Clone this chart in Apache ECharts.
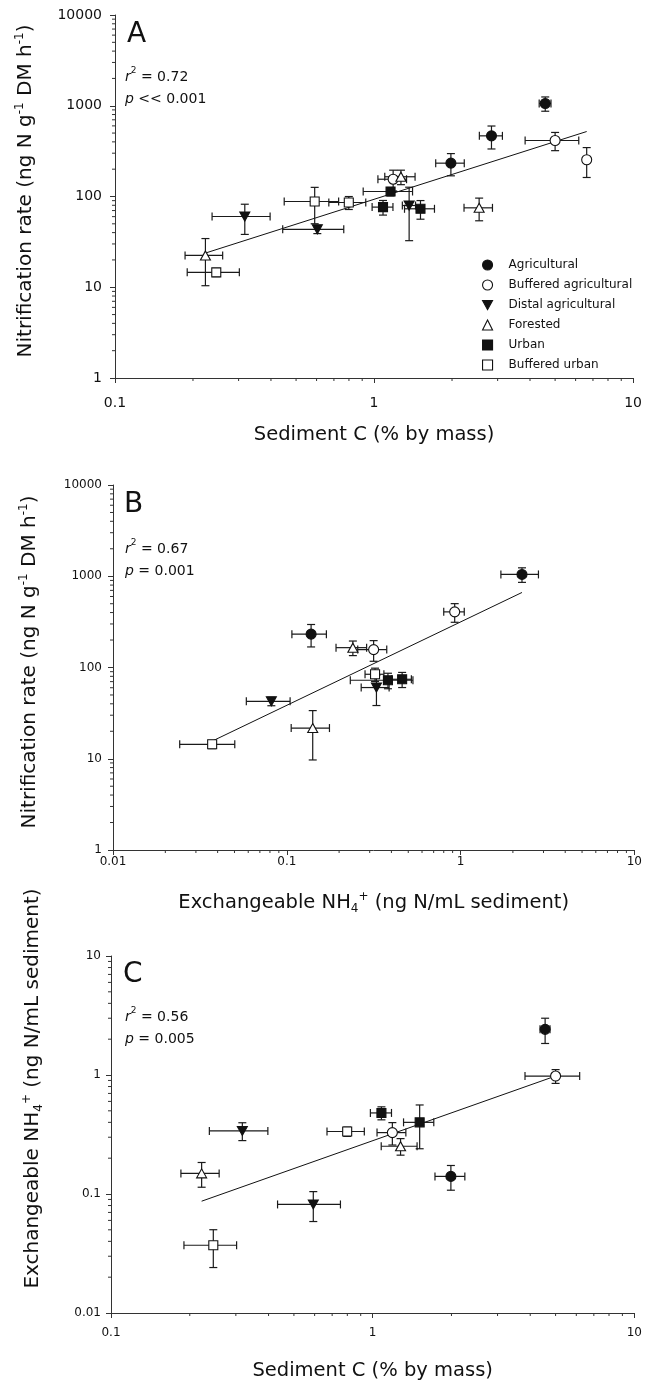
<!DOCTYPE html>
<html>
<head>
<meta charset="utf-8">
<script src="https://cdn.jsdelivr.net/npm/echarts@6/dist/echarts.min.js"></script>
<style>
  html, body { margin: 0; padding: 0; background: #fff; }
  #chart { width: 645px; height: 1384px; }
</style>
</head>
<body>
<div id="chart"></div>
<script>
// Land-use classes shown in the legend
const landUse = ['Agricultural', 'Buffered agricultural', 'Distal agricultural', 'Forested', 'Urban', 'Buffered urban'];

// Each point: [x, y, x standard error, y standard error]
// Panel A: sediment C (% by mass) vs nitrification rate
const carbonRateAgricultural = [[4.58, 1060, 0.24, 190], [2.84, 466, 0.29, 132], [1.98, 233, 0.25, 64]];
const carbonRateBufferedAgri = [[5.0, 414, 1.17, 94], [6.62, 254, 0.15, 92], [1.185, 155, 0.15, 40]];
const carbonRateDistalAgri = [[0.317, 60.2, 0.08, 22], [0.604, 43.5, 0.16, 4.5], [1.366, 79.6, 0.08, 47]];
const carbonRateForested = [[0.2234, 22.4, 0.037, 12], [1.27, 165, 0.17, 30], [2.545, 75, 0.32, 21]];
const carbonRateUrban = [[1.158, 113.5, 0.25, 12], [1.083, 76.4, 0.1, 14], [1.511, 73.2, 0.2, 17]];
const carbonRateBufferedUrban = [[0.59, 88.1, 0.14, 38], [0.799, 85.9, 0.13, 14], [0.246, 14.6, 0.056, 1.5]];

// Panel B: exchangeable NH4+ vs nitrification rate
const ammoniumRateAgricultural = [[2.256, 1047, 0.55, 190], [0.138, 232, 0.031, 64]];
const ammoniumRateBufferedAgri = [[0.925, 407, 0.125, 94], [0.316, 157, 0.06, 40]];
const ammoniumRateDistalAgri = [[0.0815, 42.6, 0.023, 4.5], [0.328, 60.3, 0.06, 22]];
const ammoniumRateForested = [[0.24, 165, 0.048, 30], [0.141, 21.7, 0.035, 12]];
const ammoniumRateUrban = [[0.382, 72.5, 0.15, 14], [0.461, 74.3, 0.06, 14]];
const ammoniumRateBufferedUrban = [[0.322, 84.3, 0.04, 14], [0.0372, 14.4, 0.013, 1.5]];

// Panel C: sediment C vs exchangeable NH4+
const carbonAmmoniumAgricultural = [[4.56, 2.42, 0.2, 0.58], [1.99, 0.1406, 0.26, 0.033]];
const carbonAmmoniumBufferedAgri = [[5.0, 0.98, 1.18, 0.13], [1.189, 0.328, 0.15, 0.07]];
const carbonAmmoniumDistalAgri = [[0.3176, 0.339, 0.08, 0.058], [0.593, 0.0817, 0.16, 0.023]];
const carbonAmmoniumForested = [[0.222, 0.149, 0.037, 0.035], [1.278, 0.252, 0.2, 0.04]];
const carbonAmmoniumUrban = [[1.08, 0.48, 0.1, 0.06], [1.512, 0.40, 0.2, 0.16]];
const carbonAmmoniumBufferedUrban = [[0.799, 0.335, 0.13, 0.03], [0.246, 0.0371, 0.056, 0.013]];

// Fitted regression lines (end points)
const fitCarbonRate = [[0.2234, 23.8], [6.62, 520]];
const fitAmmoniumRate = [[0.0372, 15.6], [2.256, 664]];
const fitCarbonAmmonium = [[0.222, 0.087], [5.0, 0.98]];

// Regression statistics
const panelLetters = ['A', 'B', 'C'];
const rSquared = ['0.72', '0.67', '0.56'];
const pValues = ['<< 0.001', '= 0.001', '= 0.005'];

// Axis tick labels
const carbonTicks = ['0.1', '1', '10'];
const ammoniumTicksX = ['0.01', '0.1', '1', '10'];
const rateTicks = ['1', '10', '100', '1000', '10000'];
const ammoniumTicksY = ['0.01', '0.1', '1', '10'];
const minorSteps = [2, 3, 4, 5, 6, 7, 8, 9];

const F = 'DejaVu Sans';
const INK = '#111';
const AXIS = '#333';

const panels = [
  { sets: [carbonRateAgricultural, carbonRateBufferedAgri, carbonRateDistalAgri, carbonRateForested, carbonRateUrban, carbonRateBufferedUrban],
    fit: fitCarbonRate, xTicks: carbonTicks, yTicks: rateTicks },
  { sets: [ammoniumRateAgricultural, ammoniumRateBufferedAgri, ammoniumRateDistalAgri, ammoniumRateForested, ammoniumRateUrban, ammoniumRateBufferedUrban],
    fit: fitAmmoniumRate, xTicks: ammoniumTicksX, yTicks: rateTicks },
  { sets: [carbonAmmoniumAgricultural, carbonAmmoniumBufferedAgri, carbonAmmoniumDistalAgri, carbonAmmoniumForested, carbonAmmoniumUrban, carbonAmmoniumBufferedUrban],
    fit: fitCarbonAmmonium, xTicks: carbonTicks, yTicks: ammoniumTicksY }
];

// Marker look per land-use class
const downTriangle = 'path://M0,0L10,0L5,9Z';
const markerStyles = [
  { symbol: 'circle', size: 10, fill: INK },
  { symbol: 'circle', size: 10, fill: '#fff' },
  { symbol: downTriangle, size: [10, 9], fill: INK },
  { symbol: 'triangle', size: [10, 9], fill: '#fff' },
  { symbol: 'rect', size: 9, fill: INK },
  { symbol: 'rect', size: 9, fill: '#fff' }
];

const grids = [
  { left: 115, top: 15, width: 530, height: 363 },
  { left: 113, top: 485, width: 529, height: 365 },
  { left: 111, top: 956, width: 530, height: 364 }
];

function tickFormatter(labels) {
  return function (v) {
    const hit = labels.find(t => Math.abs(Math.log10(+t) - Math.log10(v)) < 1e-6);
    return hit === undefined ? '' : hit;
  };
}

const supRich = {
  sup: { fontFamily: F, fontSize: 12, lineHeight: 12, verticalAlign: 'top', color: INK },
  sub: { fontFamily: F, fontSize: 12, lineHeight: 13, verticalAlign: 'bottom', color: INK }
};

function nameStyle(size, pad) {
  return { fontFamily: F, fontSize: size, color: INK, lineHeight: 24, padding: pad, rich: supRich };
}

function axisCommon(labelSize, margin) {
  return {
    type: 'log', logBase: 10,
    axisLine: { show: true, lineStyle: { color: AXIS, width: 1 } },
    axisTick: { show: true, length: 5, lineStyle: { color: AXIS, width: 1 } },
    axisLabel: { fontFamily: F, fontSize: labelSize, color: INK, margin: margin },
    splitLine: { show: false },
    minorTick: { show: false }
  };
}

const xAxes = [
  Object.assign(axisCommon(14, 18), { gridIndex: 0, min: 0.1, max: 10, name: 'Sediment C (% by mass)',
    nameLocation: 'middle', nameGap: 45, nameTextStyle: nameStyle(19.5, 0) }),
  Object.assign(axisCommon(12, 6), { gridIndex: 1, min: 0.01, max: 10,
    name: 'Exchangeable NH{sub|4}{sup|+} (ng N/mL sediment)',
    nameLocation: 'middle', nameGap: 41, nameTextStyle: nameStyle(19.5, 0) }),
  Object.assign(axisCommon(12, 14), { gridIndex: 2, min: 0.1, max: 10, name: 'Sediment C (% by mass)',
    nameLocation: 'middle', nameGap: 46, nameTextStyle: nameStyle(19.5, 0) })
];
xAxes.forEach((a, i) => { a.axisLabel.formatter = tickFormatter(panels[i].xTicks); });

const yAxes = [
  Object.assign(axisCommon(14, 13), { gridIndex: 0, min: 1, max: 10000,
    name: 'Nitrification rate (ng N g{sup|-1} DM h{sup|-1})',
    nameLocation: 'middle', nameGap: 77, nameTextStyle: nameStyle(20, [0, 0, 0, 11]) }),
  Object.assign(axisCommon(12, 11), { gridIndex: 1, min: 1, max: 10000,
    name: 'Nitrification rate (ng N g{sup|-1} DM h{sup|-1})',
    nameLocation: 'middle', nameGap: 71, nameTextStyle: nameStyle(20, [0, 0, 0, 11]) }),
  Object.assign(axisCommon(12, 10), { gridIndex: 2, min: 0.01, max: 10,
    name: 'Exchangeable NH{sub|4}{sup|+} (ng N/mL sediment)',
    nameLocation: 'middle', nameGap: 66, nameTextStyle: nameStyle(20, [0, 0, 0, 92]) })
];
yAxes.forEach((a, i) => { a.axisLabel.formatter = tickFormatter(panels[i].yTicks); });

// Error bars with end caps, placed through the axis scales
function renderErrorBars(params, api) {
  const x = api.value(0), y = api.value(1), xe = api.value(2), ye = api.value(3);
  const cap = 4;
  const style = { stroke: '#1a1a1a', lineWidth: 1.2 };
  const seg = (x1, y1, x2, y2) => ({ type: 'line', shape: { x1, y1, x2, y2 }, style });
  const kids = [];
  if (xe > 0) {
    const l = api.coord([x - xe, y]), r = api.coord([x + xe, y]);
    kids.push(seg(l[0], l[1], r[0], r[1]), seg(l[0], l[1] - cap, l[0], l[1] + cap), seg(r[0], r[1] - cap, r[0], r[1] + cap));
  }
  if (ye > 0) {
    const t = api.coord([x, y + ye]), b = api.coord([x, y - ye]);
    kids.push(seg(t[0], t[1], b[0], b[1]), seg(t[0] - cap, t[1], t[0] + cap, t[1]), seg(b[0] - cap, b[1], b[0] + cap, b[1]));
  }
  return { type: 'group', children: kids };
}

// Logarithmic minor ticks on both axes (kind 0 = x axis, 1 = y axis)
function renderMinorTick(params, api) {
  const p = api.coord([api.value(0), api.value(1)]);
  const style = { stroke: AXIS, lineWidth: 1 };
  if (api.value(2) === 0) {
    return { type: 'line', shape: { x1: p[0], y1: p[1], x2: p[0], y2: p[1] + 3 }, style };
  }
  return { type: 'line', shape: { x1: p[0] - 3, y1: p[1], x2: p[0], y2: p[1] }, style };
}

function minorTickData(xLabels, yLabels) {
  const out = [];
  const xMin = +xLabels[0], yMin = +yLabels[0];
  xLabels.slice(0, -1).forEach(t => minorSteps.forEach(m => out.push([+t * m, yMin, 0])));
  yLabels.slice(0, -1).forEach(t => minorSteps.forEach(m => out.push([xMin, +t * m, 1])));
  return out;
}

const series = [];
panels.forEach((panel, i) => {
  series.push({
    type: 'custom', xAxisIndex: i, yAxisIndex: i, silent: true, z: 1,
    renderItem: renderMinorTick, encode: { x: 0, y: 1 },
    data: minorTickData(panel.xTicks, panel.yTicks)
  });
  series.push({
    type: 'line', xAxisIndex: i, yAxisIndex: i, silent: true, z: 2,
    data: panel.fit, symbol: 'none', lineStyle: { color: INK, width: 1 }
  });
  series.push({
    type: 'custom', xAxisIndex: i, yAxisIndex: i, silent: true, z: 3,
    renderItem: renderErrorBars, encode: { x: 0, y: 1 },
    data: [].concat(...panel.sets)
  });
  panel.sets.forEach((set, k) => {
    const m = markerStyles[k];
    series.push({
      type: 'scatter', name: landUse[k], xAxisIndex: i, yAxisIndex: i, z: 4,
      symbol: m.symbol, symbolSize: m.size,
      itemStyle: { color: m.fill, borderColor: INK, borderWidth: 1.1, opacity: 1 },
      data: set.map(d => [d[0], d[1]])
    });
  });
});

// Panel letters and regression statistics
const statRich = {
  i: { fontFamily: F, fontSize: 14, fontStyle: 'italic', lineHeight: 22, color: INK },
  s: { fontFamily: F, fontSize: 9, lineHeight: 10, verticalAlign: 'top', color: INK }
};
const letterPos = [{ left: 127, top: 21 }, { left: 124, top: 491 }, { left: 123, top: 961 }];
const statPos = [{ left: 125, top: 66 }, { left: 125, top: 538 }, { left: 125, top: 1006 }];
const titles = [];
panelLetters.forEach((letter, i) => {
  titles.push({
    text: letter, left: letterPos[i].left, top: letterPos[i].top, padding: 0,
    textStyle: { fontFamily: F, fontSize: 28, fontWeight: 'normal', color: INK, lineHeight: 28 }
  });
  titles.push({
    text: '{i|r}{s|2} = ' + rSquared[i] + '\n{i|p} ' + pValues[i],
    left: statPos[i].left, top: statPos[i].top, padding: 0,
    textStyle: { fontFamily: F, fontSize: 14, fontWeight: 'normal', color: INK, lineHeight: 22, rich: statRich }
  });
});

const chart = echarts.init(document.getElementById('chart'), null, { renderer: 'canvas' });
chart.setOption({
  backgroundColor: '#fff',
  animation: false,
  title: titles,
  legend: {
    orient: 'vertical', left: 482, top: 258, padding: 0,
    itemWidth: 10, itemHeight: 10, itemGap: 6, selectedMode: false,
    data: landUse,
    itemStyle: { borderColor: INK, borderWidth: 1.1 },
    textStyle: { fontFamily: F, fontSize: 12, color: INK, lineHeight: 14, padding: [0, 0, 0, 11] }
  },
  grid: grids,
  xAxis: xAxes,
  yAxis: yAxes,
  series: series
});
</script>
</body>
</html>
